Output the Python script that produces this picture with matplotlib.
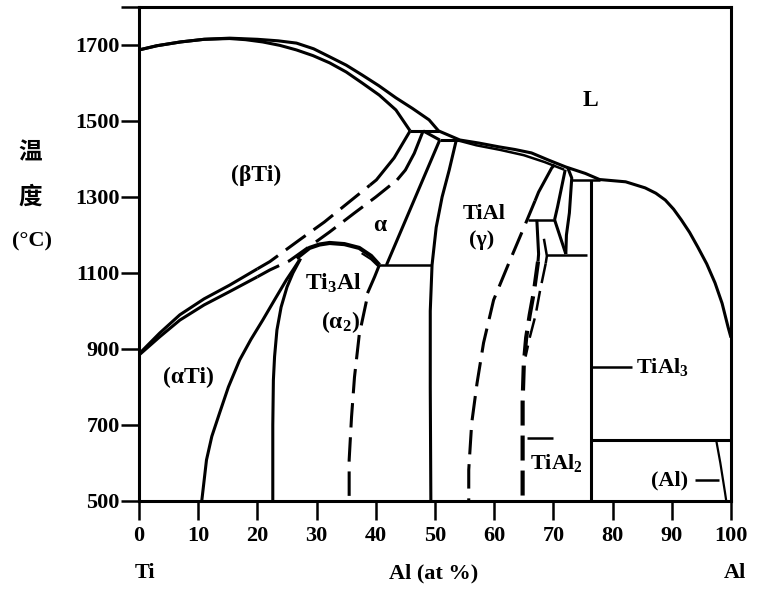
import matplotlib.pyplot as plt

plt.rcParams['font.family'] = ['Liberation Serif', 'Noto Sans CJK SC']
plt.rcParams['font.weight'] = 'bold'
plt.rcParams['mathtext.fontset'] = 'custom'
plt.rcParams['mathtext.rm'] = 'Liberation Serif:bold'
plt.rcParams['mathtext.it'] = 'Liberation Serif:bold'
plt.rcParams['mathtext.bf'] = 'Liberation Serif:bold'

# composition (at% Al) and temperature (degC)
liq_c = [0, 3, 7, 11, 15.3, 20, 23.5, 26.6, 29.5, 32.2, 35.0, 37.7, 40.5, 43.4, 46.2, 49.0, 50.6,
         54.2, 57.4, 60.8, 63.5, 66.3, 69.2, 72.1, 75.4, 77.8, 80.0, 82.2, 85.5, 87.3, 88.9,
         90.3, 91.6, 93.0, 94.4, 95.9, 97.3, 98.5, 99.5, 100]
liq_T = [1687, 1698, 1708, 1715, 1718, 1715, 1711, 1705, 1690, 1669, 1647, 1621, 1593, 1561, 1533,
         1503, 1474, 1450, 1442, 1432, 1425, 1416, 1397, 1379, 1362, 1346, 1343, 1340, 1324, 1310,
         1292, 1268, 1240, 1207, 1168, 1124, 1074, 1020, 958, 930]

beta_sol_c = [0, 3, 7, 11, 15.3, 18, 20.9, 23.8, 26.6, 29.4, 32.2, 35.0, 37.7, 40.6, 43.4, 45.8]
beta_sol_T = [1687, 1698, 1708, 1715, 1717, 1714, 1708, 1699, 1687, 1672, 1653, 1629, 1600, 1568,
              1529, 1474]

peri1_c, peri1_T = [45.8, 50.6], [1474, 1474]
alpha_sol_c, alpha_sol_T = [48.0, 50.8], [1474, 1450]
peri2_c, peri2_T = [50.8, 54.2], [1450, 1450]
gamma_sol_c = [53.6, 57, 61, 65, 68.5, 71.8]
gamma_sol_T = [1450, 1436, 1424, 1410, 1392, 1372]

# beta / (alpha+beta) boundary
bt_lo_c, bt_lo_T = [0, 3.5, 6.9, 11.0, 15.3, 20.0], [887, 942, 990, 1032, 1068, 1111]
bt_mid_c = [20.0, 22.1, 27.1, 31.3, 35.5, 39.0]
bt_mid_T = [1111, 1130, 1187, 1234, 1287, 1331]
bt_hi_c, bt_hi_T = [39.0, 40.1, 43.1, 45.8], [1331, 1345, 1403, 1474]

# (alpha+beta) / alpha boundary
at_lo_c, at_lo_T = [0, 3.5, 6.9, 11.0, 15.3, 20.0], [884, 932, 976, 1016, 1051, 1090]
at_mid_c = [20.0, 22.1, 25.4, 29.0, 32.2, 36.4, 40.0, 43.6]
at_mid_T = [1090, 1108, 1132, 1172, 1208, 1258, 1300, 1345]
at_hi_c, at_hi_T = [43.6, 45.0, 46.5, 48.0], [1345, 1371, 1415, 1474]

# alpha / (alpha+gamma) and gamma left boundary
a_g_c, a_g_T = [50.8, 41.8], [1450, 1121]
g_left_c = [53.6, 52.4, 51.2, 50.2, 49.5, 49.2, 49.2, 49.3]
g_left_T = [1450, 1371, 1300, 1220, 1121, 1000, 800, 500]
eutectoid_c, eutectoid_T = [40.6, 49.4], [1121, 1121]

# alpha2 dome and boundaries
dome_c = [26.6, 28.8, 30.5, 32.2, 34.7, 37.2, 39.2, 40.6]
dome_T = [1139, 1166, 1175, 1179, 1176, 1166, 1145, 1121]
dome_in_c, dome_in_T = [37.6, 39.2, 40.4], [1152, 1136, 1118]
a_a2_c = [27.1, 26.1, 24.9, 23.0, 20.9, 18.9, 17.0, 15.1, 13.6, 12.3, 11.4, 10.6]
a_a2_T = [1134, 1110, 1082, 1032, 976, 925, 871, 800, 731, 670, 608, 500]
a2_left_c = [27.3, 26.0, 25.0, 24.0, 23.3, 22.9, 22.7, 22.6, 22.6]
a2_left_T = [1138, 1100, 1063, 1010, 950, 880, 818, 700, 500]
a2_right_c, a2_right_T = [40.6, 39.8, 38.6], [1121, 1090, 1047]
a2_dash_c = [38.4, 37.2, 36.4, 35.9, 35.5, 35.5]
a2_dash_T = [1025, 937, 826, 721, 608, 500]

# gamma right boundary
g_right_c, g_right_T = [70.2, 69.7, 67.5, 66.9], [1385, 1376, 1313, 1290]
g_dash_c = [66.9, 65.0, 62.5, 59.9, 58.2, 57.1, 56.2, 55.7, 55.7]
g_dash_T = [1290, 1219, 1127, 1029, 916, 810, 705, 582, 500]

# lines around TiAl2 / TiAl3
p1_c, p1_T = [72.0, 70.7, 70.2], [1372, 1274, 1240]
p2_c, p2_T = [72.4, 73.1, 72.7, 72.2, 72.1], [1378, 1350, 1258, 1200, 1150]
v_left_c, v_left_T = [70.2, 72.1], [1240, 1150]
h1_c, h1_T = [65.7, 70.2], [1240, 1240]
h2_c, h2_T = [68.9, 75.7], [1147, 1147]
peri3_c, peri3_T = [73.1, 77.8], [1346, 1346]
tial3_c, tial3_T = [76.3, 76.3], [1346, 500]
eutectic_c, eutectic_T = [76.3, 100], [660, 660]
al_solv_c, al_solv_T = [97.5, 98.2, 99.0, 99.2], [660, 600, 521, 500]

t1_c, t1_T = [67.2, 67.5, 67.4], [1240, 1150, 1130]
t1_dash_c = [67.4, 66.7, 66.0, 65.4, 65.0, 64.8, 64.8, 64.8]
t1_dash_T = [1130, 1050, 990, 930, 860, 760, 650, 500]
t2_c, t2_T = [68.4, 68.9, 68.7], [1190, 1145, 1125]
t2_dash_c = [68.7, 67.7, 67.0, 66.0, 65.3]
t2_dash_T = [1125, 1050, 990, 930, 880]

# leader lines
lead_tial3_c, lead_tial3_T = [76.4, 83.2], [853, 853]
lead_tial2_c, lead_tial2_T = [65.5, 70.0], [666, 666]
lead_al_c, lead_al_T = [94.0, 97.9], [555, 555]

x_ticks = list(range(0, 101, 10))
y_ticks = [500, 700, 900, 1100, 1300, 1500, 1700, 1800]
y_labels = ['500', '700', '900', '1100', '1300', '1500', '1700', '']

fig = plt.figure(figsize=(7.67, 5.93), dpi=100)
ax = fig.add_axes([139 / 767, 1 - 501 / 593, 592 / 767, 494 / 593])
ax.set_xlim(0, 100)
ax.set_ylim(500, 1800)

DASH = (0, (8, 3.2))


def curve(c, t, style='-', lw=2.2):
    ax.plot(c, t, color='black', lw=lw, linestyle=style,
            solid_capstyle='butt', dash_capstyle='butt', solid_joinstyle='round')


curve(liq_c, liq_T)
curve(beta_sol_c, beta_sol_T)
curve(peri1_c, peri1_T)
curve(alpha_sol_c, alpha_sol_T)
curve(peri2_c, peri2_T)
curve(gamma_sol_c, gamma_sol_T, lw=1.8)

curve(bt_lo_c, bt_lo_T)
curve(bt_mid_c, bt_mid_T, DASH)
curve(bt_hi_c, bt_hi_T)
curve(at_lo_c, at_lo_T)
curve(at_mid_c, at_mid_T, DASH)
curve(at_hi_c, at_hi_T)

curve(a_g_c, a_g_T)
curve(g_left_c, g_left_T)
curve(eutectoid_c, eutectoid_T, lw=1.8)

curve(dome_c, dome_T, lw=3)
curve(dome_in_c, dome_in_T, lw=1.5)
curve(a_a2_c, a_a2_T)
curve(a2_left_c, a2_left_T)
curve(a2_right_c, a2_right_T)
curve(a2_dash_c, a2_dash_T, DASH)

curve(g_right_c, g_right_T)
curve(g_dash_c, g_dash_T, DASH)

curve(p1_c, p1_T)
curve(p2_c, p2_T)
curve(v_left_c, v_left_T)
curve(h1_c, h1_T, lw=1.8)
curve(h2_c, h2_T, lw=1.8)
curve(peri3_c, peri3_T, lw=1.8)
curve(tial3_c, tial3_T)
curve(eutectic_c, eutectic_T)
curve(al_solv_c, al_solv_T, lw=1.6)

curve(t1_c, t1_T)
curve(t1_dash_c, t1_dash_T, (0, (6, 2.4)), lw=3)
curve(t2_c, t2_T, lw=1.8)
curve(t2_dash_c, t2_dash_T, DASH, lw=1.8)

curve(lead_tial3_c, lead_tial3_T, lw=1.8)
curve(lead_tial2_c, lead_tial2_T, lw=1.8)
curve(lead_al_c, lead_al_T, lw=1.8)

# phase labels
ax.text(76.2, 1555, 'L', ha='center', va='center', fontsize=17)
ax.text(19.8, 1358, '(βTi)', ha='center', va='center', fontsize=17)
ax.text(40.7, 1226, 'α', ha='center', va='center', fontsize=17)
ax.text(32.8, 1074, 'Ti$_3$Al', ha='center', va='center', fontsize=17)
ax.text(34.0, 971, '(α$_2$)', ha='center', va='center', fontsize=17)
ax.text(58.3, 1255, 'TiAl', ha='center', va='center', fontsize=16)
ax.text(57.9, 1187, '(γ)', ha='center', va='center', fontsize=16)
ax.text(8.3, 824, '(αTi)', ha='center', va='center', fontsize=17)
ax.text(84.0, 853, 'TiAl$_3$', ha='left', va='center', fontsize=16)
ax.text(66.0, 600, 'TiAl$_2$', ha='left', va='center', fontsize=16)
ax.text(89.7, 553, '(Al)', ha='center', va='center', fontsize=16)

ax.set_xticks(x_ticks)
ax.set_xticklabels([str(v) for v in x_ticks])
ax.set_yticks(y_ticks)
ax.set_yticklabels(y_labels)
ax.tick_params(axis='x', direction='out', length=14, width=1.8, pad=4, labelsize=16)
ax.tick_params(axis='y', direction='out', length=13, width=1.8, pad=1, labelsize=16)
for s in ax.spines.values():
    s.set_linewidth(2.2)

ax.text(1.0, 310, 'Ti', ha='center', va='center', fontsize=16, clip_on=False)
ax.text(49.7, 310, 'Al (at %)', ha='center', va='center', fontsize=16, clip_on=False)
ax.text(100.6, 310, 'Al', ha='center', va='center', fontsize=16, clip_on=False)

fig.text(30 / 767, 1 - 152 / 593, '温', ha='center', va='center', fontsize=17,
         family=['Noto Sans CJK SC'], weight='bold')
fig.text(30 / 767, 1 - 197 / 593, '度', ha='center', va='center', fontsize=17,
         family=['Noto Sans CJK SC'], weight='bold')
fig.text(32 / 767, 1 - 241 / 593, '(°C)', ha='center', va='center', fontsize=16)

fig.savefig('out.png', dpi=100)
